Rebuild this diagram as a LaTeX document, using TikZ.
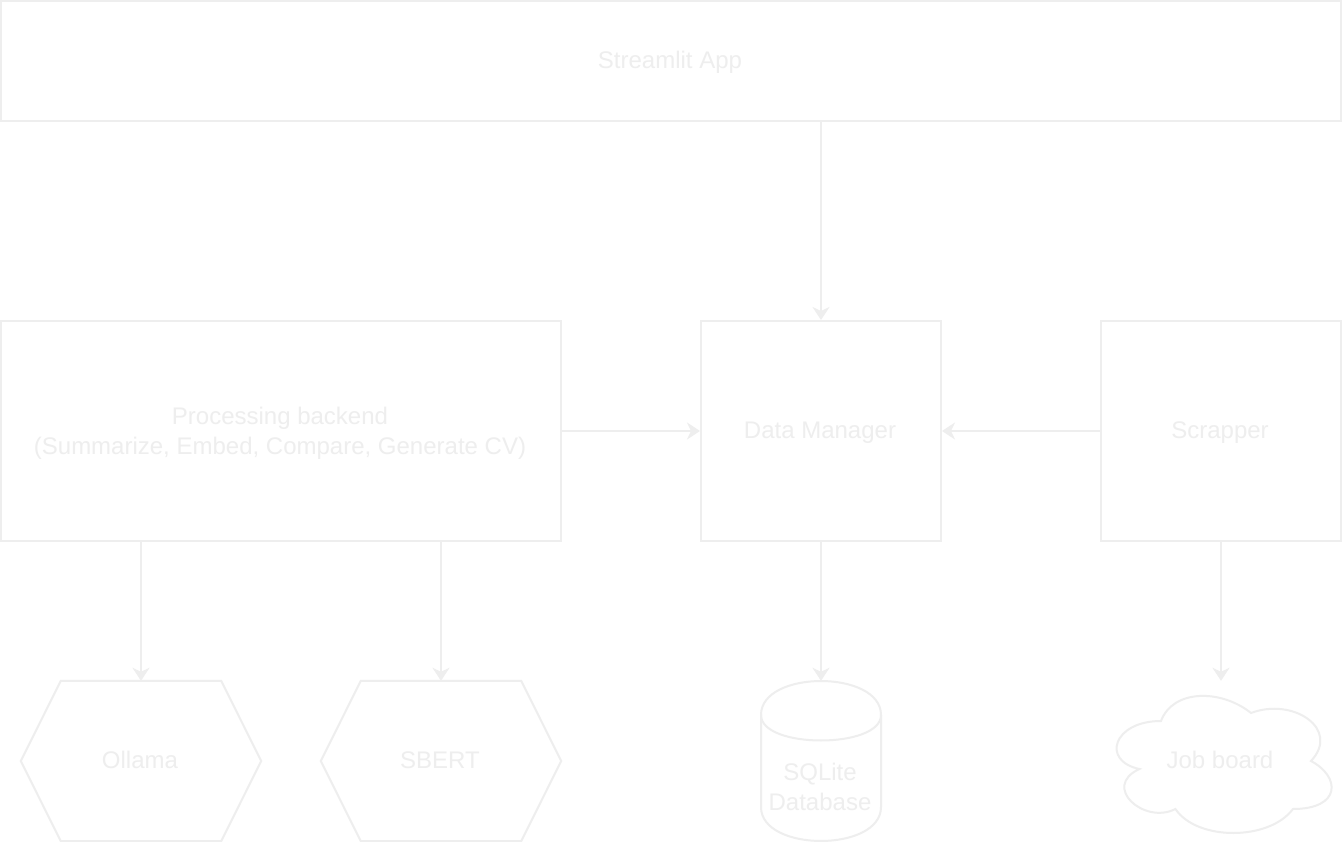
\documentclass[tikz,border=0pt]{standalone}
\usepackage{fontspec}
\setmainfont{Liberation Sans}
\usetikzlibrary{arrows.meta,calc}
\definecolor{pale}{RGB}{238,238,238}
\tikzset{
  stroke/.style={draw=pale,line width=2pt},
  conn/.style={draw=pale,line width=2pt,-{Stealth[length=13pt,width=17pt,inset=4pt]}},
  lbl/.style={text=pale,font=\fontsize{24}{30}\selectfont,align=center,inner sep=0pt},
  box/.style={stroke,lbl,rectangle,inner sep=0pt},
  free/.style={lbl,inner sep=0pt,draw=none}
}
\begin{document}
\begin{tikzpicture}[x=1pt,y=-1pt]
\useasboundingbox[fill=white] (0,0) rectangle (1342,842);
% boxes
\node[box,minimum width=1340pt,minimum height=120pt] (app) at (671,61) {};
\node[lbl] at (670,62.5) {Streamlit App};
\node[box,minimum width=560pt,minimum height=220pt] (proc) at (281,431) {};
\node[lbl] at (280,433) {Processing backend\\(Summarize, Embed, Compare, Generate CV)};
\node[box,minimum width=240pt,minimum height=220pt] (dm) at (821,431) {};
\node[lbl] at (820,432.5) {Data Manager};
\node[box,minimum width=240pt,minimum height=220pt] (scr) at (1221,431) {};
\node[lbl] at (1220,432.5) {Scrapper};
% hexagons
\node[free,minimum width=240pt,minimum height=160pt] (oll) at (141,761) {};
\node[lbl] at (140,760) {Ollama};
\draw[stroke] ($(oll.north west)+(40,0)$) -- ($(oll.north east)+(-40,0)$) -- (oll.east) -- ($(oll.south east)+(-40,0)$) -- ($(oll.south west)+(40,0)$) -- (oll.west) -- cycle;
\node[free,minimum width=240pt,minimum height=160pt] (sb) at (441,761) {};
\node[lbl] at (440,760) {SBERT};
\draw[stroke] ($(sb.north west)+(40,0)$) -- ($(sb.north east)+(-40,0)$) -- (sb.east) -- ($(sb.south east)+(-40,0)$) -- ($(sb.south west)+(40,0)$) -- (sb.west) -- cycle;
% cylinder
\node[free,minimum width=120pt,minimum height=160pt] (db) at (821,761) {};
\draw[stroke] (761,715) .. controls (761,669.7) and (881,669.7) .. (881,715)
  -- (881,807) .. controls (881,852.3) and (761,852.3) .. (761,807) -- cycle;
\draw[stroke] (761,715) .. controls (761,749) and (881,749) .. (881,715);
\node[lbl] at (820,787) {SQLite\\Database};
% cloud
\node[free,minimum width=240pt,minimum height=160pt] (jb) at (1221,761) {};
\begin{scope}[shift={(1101,681)},x=240pt,y=-160pt]
\draw[stroke] (0.25,0.25) .. controls (0.05,0.25) and (0,0.5) .. (0.16,0.55)
  .. controls (0,0.66) and (0.18,0.9) .. (0.31,0.8)
  .. controls (0.4,1) and (0.7,1) .. (0.8,0.8)
  .. controls (1,0.8) and (1,0.6) .. (0.875,0.5)
  .. controls (1,0.3) and (0.8,0.1) .. (0.625,0.2)
  .. controls (0.5,0.05) and (0.3,0.05) .. (0.25,0.25) -- cycle;
\end{scope}
\node[lbl] at (1220,760) {Job board};
% connectors
\draw[conn] (app.south -| dm.north) -- (dm.north);
\draw[conn] (proc.east |- dm.west) -- (dm.west);
\draw[conn] (scr.west) -- (dm.east);
\draw[conn] (dm.south) -- (db.north);
\draw[conn] (scr.south) -- (jb.north);
\draw[conn] (proc.south -| oll.north) -- (oll.north);
\draw[conn] (proc.south -| sb.north) -- (sb.north);
\end{tikzpicture}
\end{document}
